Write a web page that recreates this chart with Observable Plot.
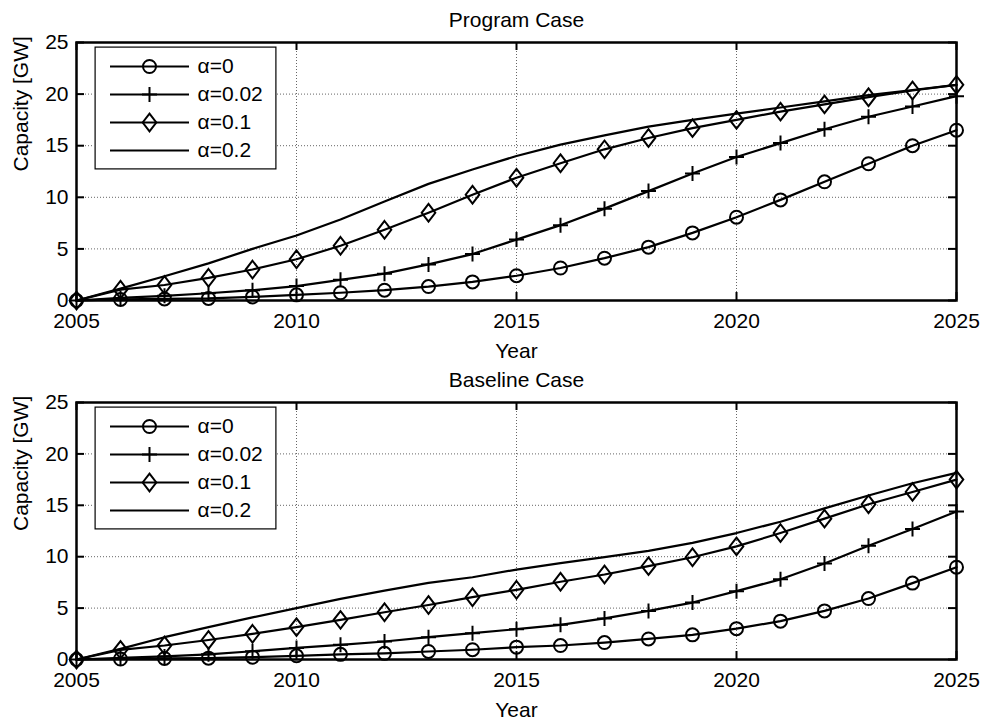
<!DOCTYPE html>
<html><head><meta charset="utf-8">
<script src="https://cdn.jsdelivr.net/npm/d3@7"></script>
<script src="https://cdn.jsdelivr.net/npm/@observablehq/plot@0.6"></script>
<style>
body{margin:0;background:#fff;}
#wrap{position:relative;width:982px;height:722px;overflow:hidden;background:#fff;font-family:"Liberation Sans",Arial,sans-serif;}
#wrap svg{position:absolute;overflow:visible;}
</style></head><body><div id="wrap"></div>
<script>
const years = [2005,2006,2007,2008,2009,2010,2011,2012,2013,2014,2015,2016,2017,2018,2019,2020,2021,2022,2023,2024,2025];
const xTicks = [2005,2010,2015,2020,2025];
const yTicks = [0,5,10,15,20,25];
const seriesLabels = ["α=0","α=0.02","α=0.1","α=0.2"];
const titles = ["Program Case","Baseline Case"];
const xLabel = "Year";
const yLabel = "Capacity [GW]";

const programA0   = [0,0.1,0.15,0.2,0.35,0.55,0.75,1.0,1.35,1.8,2.4,3.15,4.1,5.17,6.55,8.07,9.75,11.5,13.25,15.0,16.5];
const programA002 = [0,0.25,0.45,0.7,1.0,1.4,2.0,2.6,3.5,4.5,5.9,7.3,8.9,10.6,12.3,13.9,15.25,16.6,17.8,18.8,19.8];
const programA01  = [0,1.05,1.5,2.2,3.0,4.0,5.3,6.85,8.5,10.25,11.9,13.3,14.65,15.75,16.7,17.5,18.3,19.0,19.7,20.35,20.9];
const programA02  = [0,1.15,2.35,3.6,5.0,6.3,7.85,9.6,11.3,12.7,14.0,15.1,16.0,16.85,17.5,18.1,18.7,19.3,19.9,20.4,20.9];

const baselineA0   = [0,0.05,0.1,0.13,0.23,0.36,0.5,0.6,0.78,0.95,1.2,1.36,1.65,2.0,2.4,3.0,3.73,4.73,5.93,7.43,8.98];
const baselineA002 = [0,0.15,0.3,0.5,0.8,1.13,1.43,1.75,2.17,2.56,2.95,3.37,4.0,4.73,5.54,6.65,7.8,9.34,11.06,12.7,14.4];
const baselineA01  = [0,0.94,1.36,1.9,2.5,3.15,3.86,4.6,5.3,6.06,6.78,7.56,8.27,9.08,9.95,11.0,12.3,13.7,15.1,16.3,17.5];
const baselineA02  = [0,1.04,2.17,3.15,4.1,5.0,5.9,6.7,7.45,8.0,8.75,9.37,9.95,10.57,11.35,12.3,13.4,14.7,15.95,17.15,18.16];

const FONT = '"Liberation Sans", Arial, Helvetica, sans-serif';
const FS = 21;

const plusSym = {draw(ctx, size){const r=Math.sqrt(size/Math.PI); ctx.moveTo(-r,0); ctx.lineTo(r,0); ctx.moveTo(0,-r); ctx.lineTo(0,r);}};
const diamondSym = {draw(ctx, size){const r=Math.sqrt(size/Math.PI); const w=r*0.85, h=r*1.1; ctx.moveTo(0,-h); ctx.lineTo(w,0); ctx.lineTo(0,h); ctx.lineTo(-w,0); ctx.closePath();}};
const markerSpec = [
  {symbol: "circle", r: 6.5},
  {symbol: plusSym, r: 7.5},
  {symbol: diamondSym, r: 8},
  null
];

const wrap = document.getElementById("wrap");

function panel(top, height, plotH, title, vals) {
  const rows = vals.flatMap((arr, i) => arr.map((v, j) => ({year: years[j], value: v, series: seriesLabels[i], k: i})));
  const plotW = 982 - 76 - 26;
  const marks = [
    Plot.ruleX(xTicks.slice(1, -1), {x: d => d, stroke: "#666", strokeDasharray: "1,2", strokeWidth: 1}),
    Plot.ruleY(yTicks.slice(1, -1), {y: d => d, stroke: "#666", strokeDasharray: "1,2", strokeWidth: 1}),
    Plot.ruleX(xTicks, {x: d => d, insetTop: plotH - 8, stroke: "black", strokeWidth: 2}),
    Plot.ruleX(xTicks, {x: d => d, insetBottom: plotH - 8, stroke: "black", strokeWidth: 2}),
    Plot.ruleY(yTicks, {y: d => d, insetRight: plotW - 8, stroke: "black", strokeWidth: 2}),
    Plot.ruleY(yTicks, {y: d => d, insetLeft: plotW - 8, stroke: "black", strokeWidth: 2}),
    Plot.line(rows, {x: "year", y: "value", z: "series", stroke: "black", strokeWidth: 2.2, curve: "linear"})
  ];
  markerSpec.forEach((m, i) => {
    if (!m) return;
    marks.push(Plot.dot(rows.filter(d => d.k === i), {x: "year", y: "value", symbol: m.symbol, r: m.r, stroke: "black", strokeWidth: 2, fill: "none"}));
  });
  marks.push(
    Plot.frame({stroke: "black", strokeWidth: 2.5}),
    Plot.axisX({ticks: xTicks, tickSize: 0, tickPadding: 13, tickFormat: d => String(d), label: null, fontSize: FS}),
    Plot.axisY({ticks: yTicks, tickSize: 0, tickPadding: 8, tickFormat: d => String(d), label: null, fontSize: FS}),
    Plot.text([title], {text: d => d, frameAnchor: "top", dy: -22, lineAnchor: "middle", fontSize: FS}),
    Plot.text([xLabel], {text: d => d, frameAnchor: "bottom", dy: 51, lineAnchor: "middle", fontSize: FS}),
    Plot.text([yLabel], {text: d => d, frameAnchor: "left", dx: -55, rotate: -90, lineAnchor: "middle", fontSize: FS})
  );
  const svg = Plot.plot({
    width: 982, height,
    marginTop: 42, marginLeft: 76, marginRight: 26, marginBottom: height - 42 - plotH,
    style: {fontFamily: FONT, fontSize: FS + "px", color: "black", background: "transparent", overflow: "visible"},
    x: {domain: [2005, 2025]},
    y: {domain: [0, 25]},
    marks
  });
  svg.style.left = "0px";
  svg.style.top = top + "px";
  wrap.appendChild(svg);

  // legend
  const leg = Plot.plot({
    width: 182, height: 123,
    marginLeft: 0, marginRight: 0, marginTop: 19, marginBottom: 18,
    y: {type: "point", domain: seriesLabels, axis: null, padding: 0},
    style: {fontFamily: FONT, fontSize: FS + "px", color: "black", background: "white", overflow: "visible"},
    marks: [
      Plot.frame({stroke: "black", strokeWidth: 1.2, insetTop: -18.4, insetBottom: -17.4, insetLeft: 0.6, insetRight: 0.6}),
      Plot.ruleY(seriesLabels, {y: d => d, insetLeft: 16, insetRight: 87, stroke: "black", strokeWidth: 2}),
      ...markerSpec.map((m, i) => m ? Plot.dot([seriesLabels[i]], {y: d => d, frameAnchor: "left", dx: 55, symbol: m.symbol, r: m.r, stroke: "black", strokeWidth: 2, fill: "none"}) : null).filter(Boolean),
      Plot.text(seriesLabels, {y: d => d, text: d => d, frameAnchor: "left", dx: 103, textAnchor: "start", lineAnchor: "middle", fontSize: FS})
    ]
  });
  leg.style.left = "94px";
  leg.style.top = (top + 46) + "px";
  wrap.appendChild(leg);
}

panel(0, 361, 258, titles[0], [programA0, programA002, programA01, programA02]);
panel(360, 362, 257, titles[1], [baselineA0, baselineA002, baselineA01, baselineA02]);
</script>
</body></html>
